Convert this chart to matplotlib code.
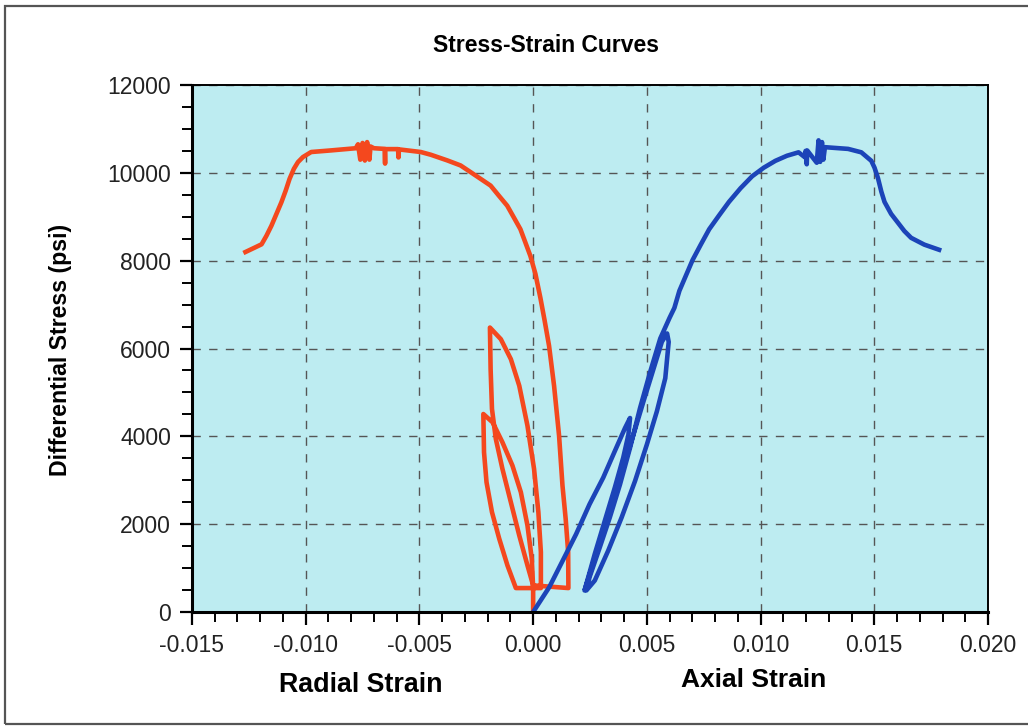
import matplotlib
matplotlib.use("Agg")
import matplotlib.pyplot as plt
from matplotlib.patches import Rectangle
from matplotlib.ticker import MultipleLocator

plt.rcParams['font.family'] = ['Liberation Sans', 'DejaVu Sans']

# radial strain (red), path order as the test runs
radial_strain = [0.0, 0.0, -0.00006, -0.00025, -0.00054, -0.00091, -0.00135, -0.00178, -0.00219,
                 -0.00216, -0.00205, -0.00181, -0.00149, -0.00113, -0.00076,
                 0.00034, 0.00034, 0.00023, 0.00004, -0.00025, -0.00061, -0.00098, -0.00142, -0.0019,
                 -0.00187, -0.00181, -0.00164, -0.00135, -0.00098, -0.00061, -0.00025, 0.0,
                 0.00155, 0.00154, 0.00143, 0.00129, 0.00114, 0.00092, 0.0007, 0.0005, 0.00032,
                 0.0001, -0.00012, -0.00034, -0.00056, -0.00085, -0.00114, -0.00151, -0.00187,
                 -0.00231, -0.00275, -0.00319, -0.00377, -0.0045,
                 -0.00494, -0.0059, -0.00592, -0.00594, -0.0065, -0.00651, -0.00653, -0.007,
                 -0.00715, -0.0072, -0.0073, -0.0074, -0.0075, -0.0076, -0.0077, -0.0078,
                 -0.00888, -0.00976, -0.01012, -0.01034, -0.01052, -0.01071, -0.01088, -0.01107,
                 -0.01129, -0.01151, -0.01173, -0.01194, -0.01224, -0.01265]
radial_stress = [0, 545, 1212, 1970, 2727, 3333, 3864, 4318, 4508,
                 3636, 2955, 2273, 1667, 1061, 545,
                 545, 1364, 2273, 3258, 4242, 5152, 5758, 6212, 6477,
                 5530, 4621, 3939, 3258, 2500, 1742, 1061, 606,
                 545, 1364, 2121, 2879, 4015, 5152, 6061, 6650, 7150,
                 7700, 8105, 8412, 8717, 8985, 9251, 9481, 9709,
                 9863, 10016, 10168, 10282, 10412,
                 10474, 10534, 10350, 10540, 10540, 10210, 10545, 10560,
                 10600, 10300, 10700, 10280, 10680, 10300, 10650, 10560,
                 10511, 10474, 10360, 10245, 10092, 9863, 9595, 9329,
                 9061, 8793, 8564, 8373, 8298, 8197]

# axial strain (blue)
axial_strain = [0.0, 0.00071, 0.0013, 0.00189, 0.00248, 0.00308, 0.00359, 0.00404, 0.00426,
                0.00419, 0.00396, 0.00359, 0.00315, 0.00271, 0.00226,
                0.00263, 0.00308, 0.00352, 0.00396, 0.00441, 0.00485, 0.0053, 0.00566, 0.00589,
                0.00596, 0.00581, 0.00544, 0.005, 0.00448, 0.00389, 0.0033, 0.00271, 0.00234,
                0.00248, 0.00293, 0.00337, 0.00382, 0.00426, 0.0047, 0.00515, 0.00559, 0.006,
                0.00621, 0.00643, 0.00672, 0.00701, 0.00737, 0.00774, 0.00817, 0.00861, 0.00912,
                0.00963, 0.01014, 0.01065, 0.01116, 0.01167, 0.01196, 0.01198,
                0.01203, 0.01205, 0.01247, 0.01255, 0.01262, 0.0127, 0.01276, 0.01283,
                0.01385, 0.01443, 0.01487, 0.01501, 0.01516, 0.01531, 0.01545, 0.01574, 0.01603,
                0.01632, 0.01662, 0.01691, 0.0172, 0.01785]
axial_stress = [0, 566, 1170, 1774, 2454, 3058, 3662, 4190, 4417,
                4039, 3511, 2831, 2076, 1321, 491,
                1095, 1774, 2529, 3284, 4039, 4794, 5549, 6153, 6342,
                6150, 5323, 4568, 3813, 2982, 2152, 1397, 717, 491,
                793, 1472, 2152, 2907, 3737, 4643, 5474, 6229, 6700,
                6924, 7313, 7664, 8014, 8365, 8715, 9027, 9338, 9650,
                9922, 10117, 10273, 10389, 10467, 10350, 10500,
                10195, 10510, 10230, 10740, 10250, 10700, 10300, 10584,
                10545, 10467, 10273, 10117, 9883, 9572, 9338, 9065, 8871,
                8676, 8520, 8442, 8365, 8248]

W, H = 1028, 728
fig = plt.figure(figsize=(W / 100, H / 100), dpi=100)
fig.patch.set_facecolor('white')
fig.patches.append(Rectangle((5 / W, 4 / H), 1.2, 1 - 10 / H, transform=fig.transFigure,
                             fill=False, edgecolor='#555555', linewidth=1.6))

ax = fig.add_axes([192 / W, 1 - 612 / H, (988 - 192) / W, (612 - 85) / H])
ax.set_facecolor('#bdecf1')

ax.plot(radial_strain, radial_stress, color='#f4481e', linewidth=3.3, solid_joinstyle='round')
ax.plot(axial_strain, axial_stress, color='#1c44b8', linewidth=3.3, solid_joinstyle='round')

ax.set_xlim(-0.015, 0.020)
ax.set_ylim(0, 12000)
ax.xaxis.set_major_locator(MultipleLocator(0.005))
ax.xaxis.set_minor_locator(MultipleLocator(0.001))
ax.yaxis.set_major_locator(MultipleLocator(2000))
ax.yaxis.set_minor_locator(MultipleLocator(500))
ax.set_xticklabels([f"{v:.3f}" for v in ax.get_xticks()])
ax.set_yticklabels([f"{int(v)}" for v in ax.get_yticks()])

ax.grid(True, which='major', color='#555555', linestyle=(0, (6, 6)), linewidth=1.0)
ax.set_axisbelow(True)

ax.tick_params(which='major', direction='out', length=9, width=1.6, labelsize=16.5,
               labelcolor='#222222', pad=6)
ax.tick_params(which='minor', direction='out', length=7, width=1.4)
ax.tick_params(axis='x', which='major', pad=7)
for s in ['left', 'bottom']:
    ax.spines[s].set_linewidth(2.2)
for s in ['top', 'right']:
    ax.spines[s].set_linewidth(1.4)

fig.text(546 / W, 1 - 45 / H, "Stress-Strain Curves", ha='center', va='center',
         fontsize=16.5, fontweight='bold')
fig.text(361 / W, 1 - 685 / H, "Radial Strain", ha='center', va='center',
         fontsize=19.3, fontweight='bold')
fig.text(754 / W, 1 - 680 / H, "Axial Strain", ha='center', va='center',
         fontsize=19, fontweight='bold')
fig.text(60 / W, 1 - 350 / H, "Differential Stress (psi)", ha='center', va='center',
         rotation=90, fontsize=16.7, fontweight='bold')

fig.savefig("out.png", dpi=100)
